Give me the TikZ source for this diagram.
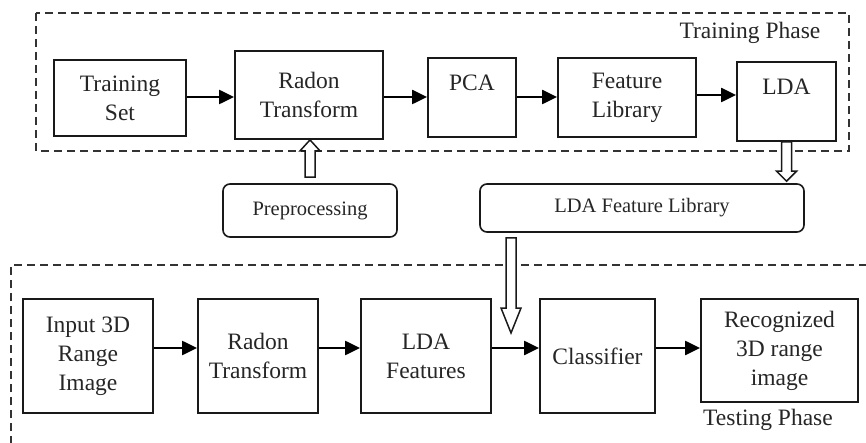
\documentclass[tikz,border=0pt]{standalone}
\usepackage{fontspec}
\setmainfont{Liberation Serif}
\usetikzlibrary{arrows.meta,calc}
\begin{document}
\begin{tikzpicture}[x=1pt,y=-1pt,
  box/.style={draw=black!90, line width=1.8pt, inner sep=0pt, align=center,
    font=\fontsize{23.5}{29}\selectfont, text=black!85},
  rbox/.style={box, line width=1.6pt, rounded corners=7pt, font=\fontsize{20.5}{25}\selectfont},
  flow/.style={line width=2.2pt, -{Triangle[length=15pt,width=14pt]}},
  phase/.style={draw=black!80, line width=1.5pt, dash pattern=on 8pt off 5pt},
  hollow/.style={draw=black!90, line width=1.5pt, fill=white},
  lbl/.style={font=\fontsize{23.5}{29}\selectfont, text=black!85, inner sep=0pt}]
\path[use as bounding box] (0,0) rectangle (866,443);
\clip (0,0) rectangle (866,443);
\fill[white] (0,0) rectangle (866,443);

% phase frames
\draw[phase] (36,13) rectangle (849,151);
\draw[phase] (11,470) -- (11,265) -- (880,265);
\node[lbl] (trainlbl) at (750,33) {Training Phase};
\node[lbl] (testlbl) at (768,420) {Testing Phase};

% training nodes
\node[box, minimum width=132pt, minimum height=76pt] (ts) at (120,98) {Training\\Set};
\node[box, minimum width=148pt, minimum height=88pt] (rt) at (309,95) {Radon\\Transform};
\node[box, minimum width=88pt, minimum height=79pt] (pca) at (472,97.5) {PCA\\\mbox{}};
\node[box, minimum width=138pt, minimum height=79pt] (fl) at (627,97.5) {Feature\\Library};
\node[box, minimum width=99pt, minimum height=79pt] (lda) at (786.5,101.5) {LDA\\\mbox{}};

\node[rbox, minimum width=174pt, minimum height=53pt] (prep) at (310,210.5) {Preprocessing};
\node[rbox, minimum width=324pt, minimum height=48pt] (ldafl) at (642,208) {LDA Feature Library};

% testing nodes
\node[box, minimum width=130pt, minimum height=114pt] (in) at (88,356) {Input 3D\\Range\\Image};
\node[box, minimum width=120pt, minimum height=114pt] (rt2) at (258,356) {Radon\\Transform};
\node[box, minimum width=130pt, minimum height=114pt] (ldaf) at (426,356) {LDA\\Features};
\node[box, minimum width=115pt, minimum height=114pt] (cl) at (597.5,356) {Classifier};
\node[box, minimum width=157pt, minimum height=103pt] (rec) at (779.5,350.5) {Recognized\\3D range\\image};

% flow arrows
\draw[flow] ($(ts.east)+(0,-1)$) -- ($(ts.east -| rt.west)+(0,-1)$);
\draw[flow] ($(rt.east |- pca.east)+(0,-0.5)$) -- ($(pca.west)+(0,-0.5)$);
\draw[flow] ($(pca.east)+(0,-0.5)$) -- ($(fl.west)+(0,-0.5)$);
\draw[flow] ($(fl.east)+(0,-2.5)$) -- ($(fl.east -| lda.west)+(0,-2.5)$);

\draw[flow] ($(in.east)+(0,-8)$) -- ($(rt2.west)+(0,-8)$);
\draw[flow] ($(rt2.east)+(0,-8)$) -- ($(ldaf.west)+(0,-8)$);
\draw[flow] ($(ldaf.east)+(0,-8)$) -- ($(cl.west)+(0,-8)$);
\draw[flow] ($(cl.east)+(0,-8)$) -- ($(rec.west)+(0,-2.5)$);

% hollow arrows
\coordinate (prepTail) at ($(prep.north)+(0,-6)$);
\coordinate (prepHead) at (rt.south);
\draw[hollow] let \p1=(prepTail), \p2=(prepHead) in
  (\x1-5pt,\y1) -- (\x1-5pt,\y2-11pt) -- (\x1-10pt,\y2-11pt) -- (\x1,\y2)
  -- (\x1+10pt,\y2-11pt) -- (\x1+5pt,\y2-11pt) -- (\x1+5pt,\y1) -- cycle;

\coordinate (ldaTail) at (lda.south);
\coordinate (ldaHead) at ($(lda.south |- ldafl.north)+(0,-2)$);
\draw[hollow] let \p1=(ldaTail), \p2=(ldaHead) in
  (\x1-5pt,\y1) -- (\x1-5pt,\y2+10pt) -- (\x1-10pt,\y2+10pt) -- (\x1,\y2)
  -- (\x1+10pt,\y2+10pt) -- (\x1+5pt,\y2+10pt) -- (\x1+5pt,\y1) -- cycle;

\coordinate (flTail) at ($(511,0 |- ldafl.south)+(0,5)$);
\coordinate (flHead) at (511,333);
\draw[hollow] let \p1=(flTail), \p2=(flHead) in
  (\x1-5pt,\y1) -- (\x1-5pt,\y2+25pt) -- (\x1-10pt,\y2+25pt) -- (\x1,\y2)
  -- (\x1+10pt,\y2+25pt) -- (\x1+5pt,\y2+25pt) -- (\x1+5pt,\y1) -- cycle;
\end{tikzpicture}
\end{document}
